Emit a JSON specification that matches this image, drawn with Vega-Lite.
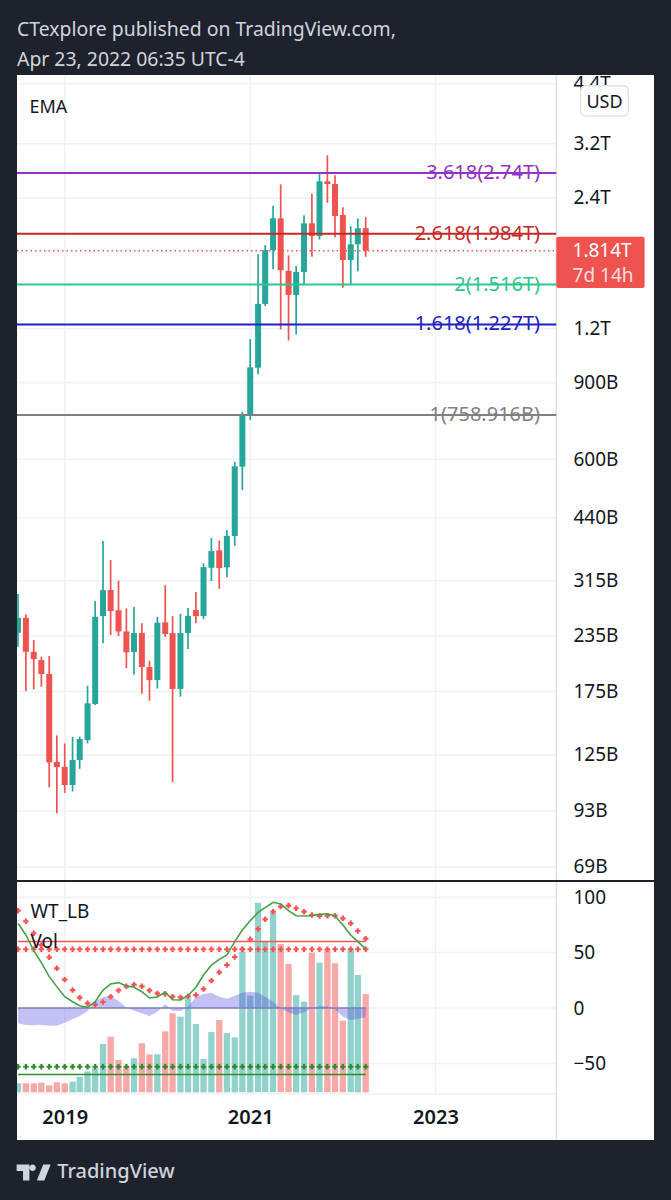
{"$schema":"https://vega.github.io/schema/vega-lite/v6.json","background":"#1e222d","padding":{"left":14,"right":20,"top":0,"bottom":0},"spacing":0,"config":{"font":"Noto Sans","view":{"stroke":null}},
"datasets":{
"m":[
{"d":"2018-07-01","open":239,"close":258.8,"high":293.5,"low":222,"dir":"up","vdir":"up","vol":-68,"wt1":76.4,"wt2":87.8,"wave":-13.8},
{"d":"2018-08-01","open":258.8,"close":216.1,"high":263.5,"low":175.5,"dir":"down","vdir":"down","vol":-68,"wt1":65.9,"wt2":78.2,"wave":-15.3},
{"d":"2018-09-01","open":216.1,"close":207.9,"high":230,"low":177,"dir":"down","vdir":"down","vol":-68,"wt1":51.7,"wt2":67.4,"wave":-15.6},
{"d":"2018-10-01","open":206.8,"close":192.1,"high":210.5,"low":179.5,"dir":"down","vdir":"down","vol":-67.4,"wt1":40.9,"wt2":56.9,"wave":-15},
{"d":"2018-11-01","open":192.1,"close":120.2,"high":211.3,"low":105.3,"dir":"down","vdir":"down","vol":-69.8,"wt1":28.3,"wt2":45.7,"wave":-15.9},
{"d":"2018-12-01","open":120.5,"close":117.2,"high":138.7,"low":91.7,"dir":"down","vdir":"down","vol":-67.1,"wt1":19.3,"wt2":35.8,"wave":-15.9},
{"d":"2019-01-01","open":117.4,"close":106.6,"high":132.9,"low":102.2,"dir":"down","vdir":"down","vol":-68,"wt1":10.2,"wt2":25.6,"wave":-13.2},
{"d":"2019-02-01","open":106.6,"close":121.7,"high":137.7,"low":103,"dir":"up","vdir":"up","vol":-66.5,"wt1":5.7,"wt2":16.2,"wave":-10.2},
{"d":"2019-03-01","open":121.7,"close":136.1,"high":137.7,"low":116.1,"dir":"up","vdir":"up","vol":-62,"wt1":2.1,"wt2":9.3,"wave":-7.2},
{"d":"2019-04-01","open":135.3,"close":164.4,"high":180.5,"low":132.9,"dir":"up","vdir":"up","vol":-57.2,"wt1":0.6,"wt2":4.2,"wave":-2.7},
{"d":"2019-05-01","open":163.8,"close":260.2,"high":282.8,"low":162.9,"dir":"up","vdir":"up","vol":-54.5,"wt1":5.7,"wt2":3,"wave":5.7},
{"d":"2019-06-01","open":261.2,"close":299.8,"high":388.8,"low":226,"dir":"up","vdir":"up","vol":-32.5,"wt1":16.2,"wt2":5.4,"wave":10.2},
{"d":"2019-07-01","open":299.8,"close":268.2,"high":351.5,"low":236.2,"dir":"down","vdir":"down","vol":-25.9,"wt1":21.7,"wt2":10.2,"wave":10.8},
{"d":"2019-08-01","open":269.3,"close":240.7,"high":315,"low":234.9,"dir":"down","vdir":"down","vol":-46.9,"wt1":22.9,"wt2":15.9,"wave":6.3},
{"d":"2019-09-01","open":240.7,"close":215.5,"high":272.1,"low":197.9,"dir":"down","vdir":"down","vol":-52.9,"wt1":19.9,"wt2":19.6,"wave":0.6},
{"d":"2019-10-01","open":215.8,"close":238.7,"high":273.9,"low":191.4,"dir":"up","vdir":"up","vol":-45.4,"wt1":18.7,"wt2":21.1,"wave":-2.4},
{"d":"2019-11-01","open":238.7,"close":199.3,"high":251.3,"low":172.9,"dir":"down","vdir":"down","vol":-31.9,"wt1":14.7,"wt2":19.6,"wave":-4.8},
{"d":"2019-12-01","open":199.3,"close":186,"high":206,"low":166.7,"dir":"down","vdir":"down","vol":-41.8,"wt1":9,"wt2":15.9,"wave":-7.2},
{"d":"2020-01-01","open":186,"close":252.1,"high":260.2,"low":177.9,"dir":"up","vdir":"up","vol":-41.8,"wt1":9.9,"wt2":13.2,"wave":-3.3},
{"d":"2020-02-01","open":252.6,"close":237.4,"high":307.4,"low":234,"dir":"down","vdir":"down","vol":-21.1,"wt1":14.4,"wt2":12.6,"wave":3.3},
{"d":"2020-03-01","open":238.7,"close":177.5,"high":261.2,"low":108.3,"dir":"down","vdir":"down","vol":-4.8,"wt1":7.5,"wt2":10.2,"wave":-2.4},
{"d":"2020-04-01","open":177.5,"close":238.7,"high":264.3,"low":170.3,"dir":"up","vdir":"up","vol":-7.8,"wt1":7.2,"wt2":9.6,"wave":-2.7},
{"d":"2020-05-01","open":238.7,"close":261.6,"high":272.5,"low":219.3,"dir":"up","vdir":"up","vol":8.7,"wt1":11.1,"wt2":10.5,"wave":1.2},
{"d":"2020-06-01","open":269.6,"close":261.2,"high":296.9,"low":251.7,"dir":"down","vdir":"up","vol":-14.4,"wt1":18.7,"wt2":11.7,"wave":9.6},
{"d":"2020-07-01","open":261.2,"close":338.7,"high":345.5,"low":257,"dir":"up","vdir":"up","vol":-46,"wt1":29.8,"wt2":17.1,"wave":12.6},
{"d":"2020-08-01","open":337.5,"close":368.7,"high":395,"low":314.5,"dir":"up","vdir":"up","vol":-21.7,"wt1":38.8,"wt2":24.7,"wave":13.8},
{"d":"2020-09-01","open":370.1,"close":336.9,"high":390,"low":301.7,"dir":"down","vdir":"down","vol":-10.8,"wt1":43.9,"wt2":32.2,"wave":10.2},
{"d":"2020-10-01","open":338.2,"close":399.7,"high":412.2,"low":320.7,"dir":"up","vdir":"up","vol":-22.6,"wt1":47.8,"wt2":38.8,"wave":8.4},
{"d":"2020-11-01","open":399.3,"close":578,"high":592.2,"low":379.2,"dir":"up","vdir":"up","vol":-26.5,"wt1":59.9,"wt2":46,"wave":11.1},
{"d":"2020-12-01","open":577,"close":758.9,"high":772.3,"low":509.8,"dir":"up","vdir":"up","vol":50.8,"wt1":70.4,"wt2":52.9,"wave":13.8},
{"d":"2021-01-01","open":758.9,"close":977.3,"high":1135,"low":739,"dir":"up","vdir":"up","vol":11.1,"wt1":78.8,"wt2":62,"wave":14.7},
{"d":"2021-02-01","open":975.3,"close":1368,"high":1780,"low":941.8,"dir":"up","vdir":"up","vol":95,"wt1":86.3,"wt2":71.3,"wave":13.8},
{"d":"2021-03-01","open":1368,"close":1821,"high":1870,"low":1353,"dir":"up","vdir":"up","vol":59.9,"wt1":90.6,"wt2":80,"wave":10.2},
{"d":"2021-04-01","open":1821,"close":2154,"high":2304,"low":1644,"dir":"up","vdir":"up","vol":86,"wt1":95.4,"wt2":86.9,"wave":5.7},
{"d":"2021-05-01","open":2154,"close":1636,"high":2580,"low":1195,"dir":"down","vdir":"down","vol":57.8,"wt1":93.9,"wt2":91.5,"wave":-0.3},
{"d":"2021-06-01","open":1630,"close":1435,"high":1770,"low":1127,"dir":"down","vdir":"down","vol":39.7,"wt1":87.8,"wt2":92.4,"wave":-3.9},
{"d":"2021-07-01","open":1435,"close":1621,"high":1673,"low":1164,"dir":"up","vdir":"up","vol":11.7,"wt1":83.3,"wt2":90,"wave":-6.3},
{"d":"2021-08-01","open":1621,"close":2098,"high":2189,"low":1518,"dir":"up","vdir":"up","vol":5.7,"wt1":83,"wt2":86.9,"wave":-3.9},
{"d":"2021-09-01","open":2098,"close":1961,"high":2454,"low":1757,"dir":"down","vdir":"down","vol":49.9,"wt1":83.3,"wt2":83.9,"wave":0},
{"d":"2021-10-01","open":1961,"close":2622,"high":2740,"low":1925,"dir":"up","vdir":"up","vol":40.9,"wt1":84.5,"wt2":83,"wave":1.5},
{"d":"2021-11-01","open":2622,"close":2584,"high":3010,"low":2340,"dir":"down","vdir":"down","vol":52.3,"wt1":85.1,"wt2":83.3,"wave":1.5},
{"d":"2021-12-01","open":2584,"close":2181,"high":2707,"low":1948,"dir":"down","vdir":"down","vol":40.3,"wt1":83,"wt2":83.3,"wave":-1.2},
{"d":"2022-01-01","open":2192,"close":1727,"high":2284,"low":1491,"dir":"down","vdir":"down","vol":-11.4,"wt1":74.9,"wt2":80.9,"wave":-7.8},
{"d":"2022-02-01","open":1727,"close":1877,"high":2066,"low":1518,"dir":"up","vdir":"up","vol":52.9,"wt1":65.9,"wt2":76.4,"wave":-10.8},
{"d":"2022-03-01","open":1877,"close":2044,"high":2154,"low":1627,"dir":"up","vdir":"up","vol":29.8,"wt1":59.9,"wt2":69.5,"wave":-9.9},
{"d":"2022-04-01","open":2044,"close":1814,"high":2169,"low":1757,"dir":"down","vdir":"down","vol":12.6,"wt1":53.2,"wt2":62.6,"wave":-8.4}
],
"fib":[
{"p":2740,"t":"3.618(2.74T)","c":"#9432c8"},
{"p":1984,"t":"2.618(1.984T)","c":"#c62828"},
{"p":1516,"t":"2(1.516T)","c":"#2dc58f"},
{"p":1227,"t":"1.618(1.227T)","c":"#2020c0"},
{"p":758.916,"t":"1(758.916B)","c":"#808080"}
],
"ticks":[{"p":69},{"p":93},{"p":125},{"p":175},{"p":235},{"p":315},{"p":440},{"p":600},{"p":900},{"p":1200},{"p":2400},{"p":3200},{"p":4400}],
"years":[{"d":"2019-01-01"},{"d":"2021-01-01"},{"d":"2023-01-01"}],
"oscticks":[{"v":100},{"v":50},{"v":0},{"v":-50},{"v":-77.6}]
},
"vconcat":[
{"width":637,"height":74,"data":{"values":[{"x":0,"y":30,"t":"CTexplore published on TradingView.com,"},{"x":0,"y":60,"t":"Apr 23, 2022 06:35 UTC-4"}]},
"mark":{"type":"text","align":"left","baseline":"middle","fontSize":19.4,"color":"#d1d4dc"},
"encoding":{"x":{"field":"x","type":"quantitative","scale":{"domain":[0,637]},"axis":null},"y":{"field":"y","type":"quantitative","scale":{"domain":[74,0]},"axis":null},"text":{"field":"t"}}},
{"width":637,"height":805,"view":{"fill":"#ffffff","stroke":null},
"layer":[
{"data":{"name":"ticks"},"mark":{"type":"rule","color":"#f0f1f4","strokeWidth":1.5},
"encoding":{"y":{"field":"p","type":"quantitative","scale":{"type":"log","domain":[64.4,4608],"nice":false,"zero":false},
"axis":{"orient":"right","title":null,"values":[69,93,125,175,235,315,440,600,900,1200,2400,3200,4400],"labelExpr":"datum.value>=1000?(datum.value/1000)+'T':datum.value+'B'","grid":false,"domain":false,"ticks":false,"labelPadding":-81,"labelAlign":"left","labelFontSize":19,"labelColor":"#131722","labelOverlap":false,"labelBound":false,"labelFlush":false}},
"x":{"datum":{"year":2018,"month":6,"date":27},"type":"temporal","scale":{"domain":[{"year":2018,"month":6,"date":27},{"year":2025,"month":5,"date":11}],"nice":false,"padding":0},"axis":null},"x2":{"datum":{"year":2024,"month":4,"date":21}}}},
{"data":{"name":"years"},"mark":{"type":"rule","color":"#f0f1f4","strokeWidth":1.5},"encoding":{"x":{"field":"d","type":"temporal"}}},
{"data":{"values":[{"d":"2024-04-21"}]},"mark":{"type":"rule","color":"#e0e3eb","strokeWidth":1.5},"encoding":{"x":{"field":"d","type":"temporal"}}},
{"data":{"name":"m"},"mark":{"type":"rule","strokeWidth":1.7},"encoding":{"x":{"field":"d","type":"temporal"},"y":{"field":"low","type":"quantitative"},"y2":{"field":"high"},"color":{"field":"dir","scale":{"domain":["up","down"],"range":["#26a69a","#ef5350"]},"legend":null}}},
{"data":{"name":"m"},"mark":{"type":"bar","size":6,"clip":true},"encoding":{"x":{"field":"d","type":"temporal"},"y":{"field":"open","type":"quantitative"},"y2":{"field":"close"},"color":{"field":"dir","scale":{"domain":["up","down"],"range":["#26a69a","#ef5350"]},"legend":null}}},
{"data":{"name":"fib"},"mark":{"type":"rule","strokeWidth":2},"encoding":{"y":{"field":"p","type":"quantitative"},"x":{"datum":{"year":2018,"month":6,"date":27},"type":"temporal"},"x2":{"datum":{"year":2024,"month":4,"date":21}},"color":{"field":"c","scale":null}}},
{"data":{"values":[{"p":1814}]},"mark":{"type":"rule","strokeWidth":1.5,"color":"#ef5350","strokeDash":[1.5,3]},"encoding":{"y":{"field":"p","type":"quantitative"},"x":{"datum":{"year":2018,"month":6,"date":27},"type":"temporal"},"x2":{"datum":{"year":2024,"month":4,"date":21}}}},
{"data":{"name":"fib"},"mark":{"type":"text","align":"right","baseline":"middle","fontSize":20},"encoding":{"y":{"field":"p","type":"quantitative"},"x":{"datum":{"year":2024,"month":2,"date":17},"type":"temporal"},"text":{"field":"t"},"color":{"field":"c","scale":null}}},
{"data":{"values":[{"d":"2018-08-15","p":3870,"t":"EMA"}]},"mark":{"type":"text","align":"left","baseline":"middle","fontSize":18,"color":"#131722"},"encoding":{"x":{"field":"d","type":"temporal"},"y":{"field":"p","type":"quantitative"},"text":{"field":"t"}}},
{"data":{"values":[{"a":"2024-07-26","b":"2025-01-30","p1":4354,"p2":3707}]},"mark":{"type":"rect","fill":"#ffffff","stroke":"#e0e3eb","strokeWidth":1.5,"cornerRadius":5},"encoding":{"x":{"field":"a","type":"temporal"},"x2":{"field":"b"},"y":{"field":"p1","type":"quantitative"},"y2":{"field":"p2"}}},
{"data":{"values":[{"d":"2024-10-28","p":3970,"t":"USD"}]},"mark":{"type":"text","align":"center","baseline":"middle","fontSize":18,"color":"#131722"},"encoding":{"x":{"field":"d","type":"temporal"},"y":{"field":"p","type":"quantitative"},"text":{"field":"t"}}},
{"data":{"values":[{"a":"2024-04-21","b":"2025-04-04","p1":1954,"p2":1489}]},"mark":{"type":"rect","fill":"#ef5350","cornerRadius":2},"encoding":{"x":{"field":"a","type":"temporal"},"x2":{"field":"b"},"y":{"field":"p1","type":"quantitative"},"y2":{"field":"p2"}}},
{"data":{"values":[{"d":"2024-06-24","p":1811,"t":"1.814T","o":1},{"d":"2024-06-24","p":1590,"t":"7d 14h","o":0.8}]},"mark":{"type":"text","align":"left","baseline":"middle","fontSize":19,"color":"#ffffff"},"encoding":{"x":{"field":"d","type":"temporal"},"y":{"field":"p","type":"quantitative"},"text":{"field":"t"},"opacity":{"field":"o","type":"quantitative","scale":null}}}
]},
{"width":637,"height":258,"view":{"fill":"#ffffff","stroke":null},
"layer":[
{"data":{"name":"oscticks"},"mark":{"type":"rule","color":"#f0f1f4","strokeWidth":1.5},
"encoding":{"y":{"field":"v","type":"quantitative","scale":{"domain":[-119.1,113.7],"nice":false,"zero":false},
"axis":{"orient":"right","title":null,"values":[100,50,0,-50],"labelExpr":"datum.value<0?'−'+(-datum.value):''+datum.value","grid":false,"domain":false,"ticks":false,"labelPadding":-81,"labelAlign":"left","labelFontSize":19,"labelColor":"#131722","labelOverlap":false,"labelBound":false,"labelFlush":false}},
"x":{"datum":{"year":2018,"month":6,"date":27},"type":"temporal","scale":{"domain":[{"year":2018,"month":6,"date":27},{"year":2025,"month":5,"date":11}],"nice":false,"padding":0},
"axis":{"orient":"bottom","title":null,"values":[{"year":2019,"month":1,"date":1},{"year":2021,"month":1,"date":1},{"year":2023,"month":1,"date":1}],"format":"%Y","grid":false,"domain":false,"ticks":false,"labelPadding":-33,"labelFontSize":20,"labelFontWeight":600,"labelColor":"#131722","labelOverlap":false,"labelBound":false,"labelFlush":false}},
"x2":{"datum":{"year":2024,"month":4,"date":21}}}},
{"data":{"name":"years"},"mark":{"type":"rule","color":"#f0f1f4","strokeWidth":1.5},"encoding":{"x":{"field":"d","type":"temporal"},"y":{"datum":-77.6},"y2":{"datum":113.7}}},
{"data":{"values":[{"d":"2024-04-21"}]},"mark":{"type":"rule","color":"#e0e3eb","strokeWidth":1.5},"encoding":{"x":{"field":"d","type":"temporal"}}},
{"data":{"name":"m"},"mark":{"type":"bar","size":6.3,"opacity":0.5,"clip":true},"encoding":{"x":{"field":"d","type":"temporal"},"y":{"field":"vol","type":"quantitative"},"y2":{"datum":-76.1},"color":{"field":"vdir","scale":{"domain":["up","down"],"range":["#26a69a","#ef5350"]},"legend":null}}},
{"data":{"name":"m"},"mark":{"type":"area","color":"#4a40e0","opacity":0.33},"encoding":{"x":{"field":"d","type":"temporal"},"y":{"field":"wave","type":"quantitative"},"y2":{"datum":0}}},
{"data":{"name":"m"},"mark":{"type":"line","color":"#7f7fc0","strokeWidth":1.5},"encoding":{"x":{"field":"d","type":"temporal"},"y":{"datum":0}}},
{"data":{"name":"m"},"mark":{"type":"line","color":"#ff5252","strokeWidth":1.5},"encoding":{"x":{"field":"d","type":"temporal"},"y":{"datum":60}}},
{"data":{"name":"m"},"mark":{"type":"line","color":"#2e8b2e","strokeWidth":1.5},"encoding":{"x":{"field":"d","type":"temporal"},"y":{"datum":-60}}},
{"data":{"name":"m"},"mark":{"type":"point","shape":"cross","filled":true,"size":30,"color":"#ff5252","opacity":1,"clip":true},"encoding":{"x":{"field":"d","type":"temporal"},"y":{"datum":53}}},
{"data":{"name":"m"},"mark":{"type":"point","shape":"cross","filled":true,"size":30,"color":"#2e8b2e","opacity":1,"clip":true},"encoding":{"x":{"field":"d","type":"temporal"},"y":{"datum":-53}}},
{"data":{"name":"m"},"mark":{"type":"point","shape":"cross","filled":true,"size":30,"color":"#ff5252","opacity":1,"clip":true},"encoding":{"x":{"field":"d","type":"temporal"},"y":{"field":"wt2","type":"quantitative"}}},
{"data":{"name":"m"},"mark":{"type":"line","color":"#43a047","strokeWidth":1.6},"encoding":{"x":{"field":"d","type":"temporal"},"y":{"field":"wt1","type":"quantitative"}}},
{"data":{"values":[{"d":"2018-08-19","v":87,"t":"WT_LB"},{"d":"2018-08-19","v":60,"t":"Vol"}]},"mark":{"type":"text","align":"left","baseline":"middle","fontSize":19,"color":"#131722"},"encoding":{"x":{"field":"d","type":"temporal"},"y":{"field":"v","type":"quantitative"},"text":{"field":"t"}}}
]},
{"width":637,"height":62,"layer":[
{"data":{"values":[{"x":41,"y":33,"t":"TradingView"}]},"mark":{"type":"text","align":"left","baseline":"middle","fontSize":20,"fontWeight":500,"color":"#d1d4dc"},
"encoding":{"x":{"field":"x","type":"quantitative","scale":{"domain":[0,637]},"axis":null},"y":{"field":"y","type":"quantitative","scale":{"domain":[62,0]},"axis":null},"text":{"field":"t"}}},
{"data":{"values":[{"x":17,"y":33}]},"mark":{"type":"point","filled":true,"opacity":1,"color":"#d1d4dc","size":4624,"shape":"M-.5 -.234L-.125 -.234L-.125 .234L-.3125 .234L-.3125 -.047L-.5 -.047ZM.094 .234L.281 -.234L.5 -.234L.3125 .234ZM-.125 -.141a.094 .094 0 1 1 .188 0a.094 .094 0 1 1 -.188 0Z"},
"encoding":{"x":{"field":"x","type":"quantitative"},"y":{"field":"y","type":"quantitative"}}}
]}
]}
